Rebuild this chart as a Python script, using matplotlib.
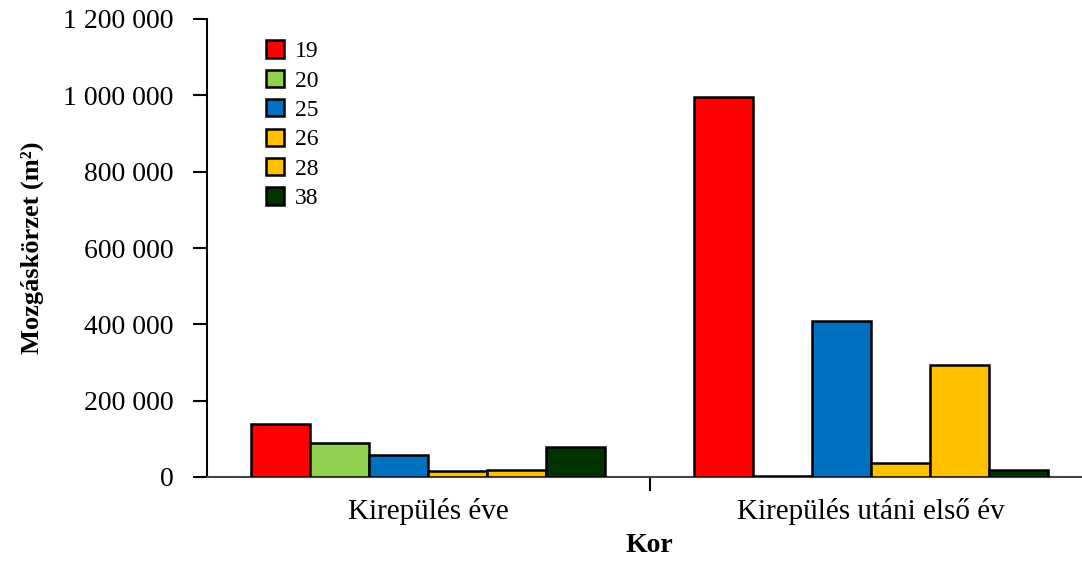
import numpy as np
import matplotlib.pyplot as plt
from matplotlib.ticker import FuncFormatter, FixedLocator

plt.rcParams['font.family'] = ['Liberation Serif', 'DejaVu Serif']

categories = ['Kirepülés éve', 'Kirepülés utáni első év']
series = ['19', '20', '25', '26', '28', '38']
v19 = [140000, 996000]
v20 = [89000, 2000]
v25 = [58000, 409000]
v26 = [16000, 36000]
v28 = [19000, 293000]
v38 = [78000, 18000]
colors = ['#FF0000', '#92D050', '#0070C0', '#FFC000', '#FFC000', '#003300']

values = [v19, v20, v25, v26, v28, v38]

fig = plt.figure(figsize=(10.82, 5.66), dpi=100)
ax = fig.add_axes([207 / 1082, 1 - 477 / 566, 885 / 1082, 458 / 566])

x = np.arange(len(categories))
n = len(series)
w = 0.8 / n
for i, (name, vals, c) in enumerate(zip(series, values, colors)):
    ax.bar(x - 0.4 + w * (i + 0.5), vals, width=w, color=c,
           edgecolor='black', linewidth=1.8, label=name, zorder=3)

ax.set_xlim(-0.5, 1.5)
ax.set_ylim(0, 1200000)
ax.set_yticks(np.arange(0, 1200001, 200000))
ax.yaxis.set_major_formatter(FuncFormatter(lambda v, p: f'{int(v):,}'.replace(',', ' ')))
ax.set_xticks(x)
ax.set_xticklabels(categories, fontsize=21)
ax.xaxis.set_minor_locator(FixedLocator([0.5]))
ax.tick_params(axis='x', which='major', length=0, pad=15)
ax.tick_params(axis='x', which='minor', length=10, width=1.5, direction='out')
ax.tick_params(axis='y', length=10, width=1.5, direction='out', labelsize=20, pad=14)

for s in ['top', 'right']:
    ax.spines[s].set_visible(False)
ax.spines['left'].set_linewidth(1.5)
ax.spines['bottom'].set_linewidth(1.5)
ax.spines['bottom'].set_color('#444444')

ax.set_ylabel('Mozgáskörzet (m²)', fontsize=19, fontweight='bold', labelpad=14)
ax.set_xlabel('Kor', fontsize=20, fontweight='bold', labelpad=6)

ax.legend(loc='upper left', bbox_to_anchor=(0.043, 1.0), frameon=False,
          fontsize=17, handlelength=0.75, handleheight=0.75, handletextpad=0.45,
          labelspacing=0.32)

fig.savefig('out.png', dpi=100)
